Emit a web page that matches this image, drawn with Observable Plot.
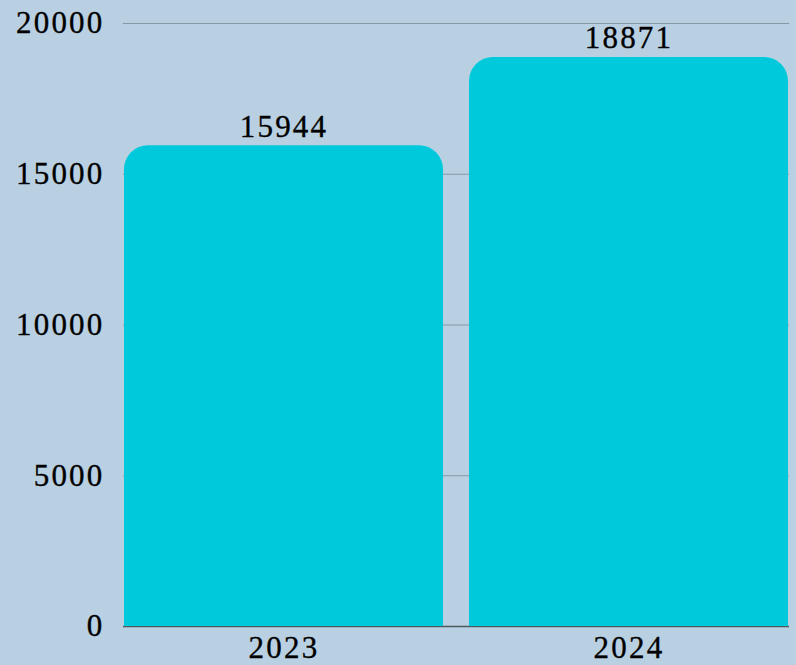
<!DOCTYPE html>
<html>
<head>
<meta charset="utf-8">
<script src="https://cdn.jsdelivr.net/npm/d3@7"></script>
<script src="https://cdn.jsdelivr.net/npm/@observablehq/plot@0.6"></script>
<style>
  html, body { margin: 0; padding: 0; background: #b9d0e2; }
  #chart svg { display: block; }
  #chart svg text { stroke: #000; stroke-width: 0.35px; }
</style>
</head>
<body>
<div id="chart"></div>
<script>
const years = ["2023", "2024"];
const values = [15944, 18871];
const yTicks = [0, 5000, 10000, 15000, 20000];

const data = years.map((year, i) => ({year, value: values[i]}));

const font = "'Liberation Serif', serif";

const chart = Plot.plot({
  width: 796,
  height: 665,
  marginLeft: 123,
  marginRight: 7,
  marginTop: 23,
  marginBottom: 39,
  style: {background: "#b9d0e2", fontFamily: font, fontSize: "31px", color: "#000", letterSpacing: "2.2px"},
  x: {domain: years, paddingInner: 0.075, paddingOuter: 0, label: null},
  y: {domain: [0, 20000], label: null},
  marks: [
    Plot.ruleY(yTicks.slice(1), {stroke: "#8597a3", strokeWidth: 1}),
    Plot.ruleY([0], {stroke: "#4d5a60", strokeWidth: 1.5}),
    Plot.barY(data, {x: "year", y: "value", fill: "#00c9dc", rx: 24, ry: 24}),
    Plot.barY(data, {x: "year", y1: 0, y2: d => d.value / 2, fill: "#00c9dc"}),
    Plot.text(data, {x: "year", y: "value", text: d => String(d.value), dy: -19, fontSize: 31, fill: "#000"}),
    Plot.axisY({ticks: yTicks, tickSize: 0, tickPadding: 19, tickFormat: d => String(d), fontSize: 31, label: null}),
    Plot.axisX({tickSize: 0, tickPadding: 9, fontSize: 31, label: null})
  ]
});
document.getElementById("chart").appendChild(chart);
</script>
</body>
</html>
